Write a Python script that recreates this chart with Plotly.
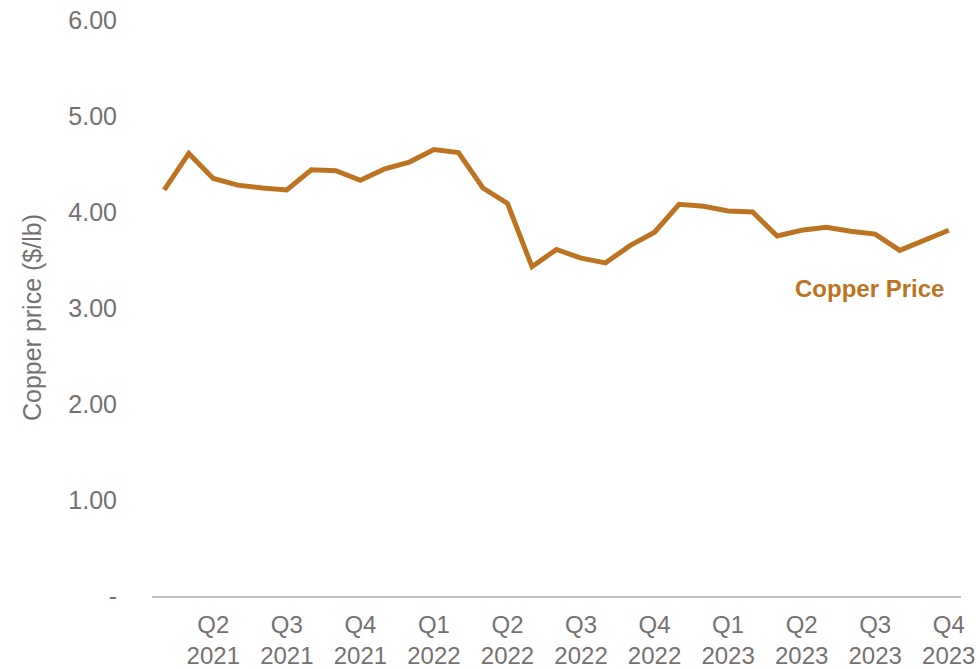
import plotly.graph_objects as go

months = list(range(33))
copper_price = [4.23, 4.61, 4.35, 4.28, 4.25, 4.23, 4.44, 4.43, 4.33, 4.45, 4.52,
                4.65, 4.62, 4.25, 4.09, 3.43, 3.61, 3.52, 3.47, 3.65, 3.79, 4.08,
                4.06, 4.01, 4.00, 3.75, 3.81, 3.84, 3.80, 3.77, 3.60, 3.71, 3.81]
tick_positions = [2, 5, 8, 11, 14, 17, 20, 23, 26, 29, 32]
tick_labels = ["Q2<br>2021", "Q3<br>2021", "Q4<br>2021", "Q1<br>2022", "Q2<br>2022",
               "Q3<br>2022", "Q4<br>2022", "Q1<br>2023", "Q2<br>2023", "Q3<br>2023",
               "Q4<br>2023"]
y_ticks = [0, 1, 2, 3, 4, 5, 6]
y_tick_labels = ["-", "1.00", "2.00", "3.00", "4.00", "5.00", "6.00"]

line_color = "#BD7422"
grey = "#767171"
font_family = "Arial, Liberation Sans, sans-serif"

fig = go.Figure()
fig.add_trace(go.Scatter(x=months, y=copper_price, mode="lines",
                         line=dict(color=line_color, width=5),
                         name="Copper Price", showlegend=False))

fig.add_annotation(x=28.75, y=3.2, text="<b>Copper Price</b>", showarrow=False,
                   font=dict(color=line_color, size=24, family=font_family))

fig.add_annotation(xref="paper", yref="paper", x=-0.148, y=0.483,
                   text="Copper price ($/lb)", showarrow=False, textangle=-90,
                   xanchor="center", yanchor="middle",
                   font=dict(color=grey, size=25, family=font_family))

fig.update_layout(
    width=980, height=669,
    margin=dict(l=152, r=19, t=20, b=73, autoexpand=False),
    plot_bgcolor="white", paper_bgcolor="white",
    font=dict(family=font_family, color=grey, size=25),
    xaxis=dict(range=[-0.5, 32.5], tickmode="array", tickvals=tick_positions,
               ticktext=tick_labels, showgrid=False, zeroline=False,
               showline=True, linecolor="#BFBFBF", linewidth=1.5,
               ticks="outside", ticklen=6, tickcolor="rgba(0,0,0,0)",
               automargin=False,
               tickfont=dict(size=24, color=grey)),
    yaxis=dict(range=[0, 6], tickmode="array", tickvals=y_ticks,
               ticktext=y_tick_labels, showgrid=False, zeroline=False,
               showline=False, ticks="outside", ticklen=29,
               tickcolor="rgba(0,0,0,0)", automargin=False,
               tickfont=dict(size=25, color=grey)),
)

fig.write_html("out.html", config={"displayModeBar": False},
               post_script="document.body.style.margin='0';document.body.style.overflow='hidden';")
